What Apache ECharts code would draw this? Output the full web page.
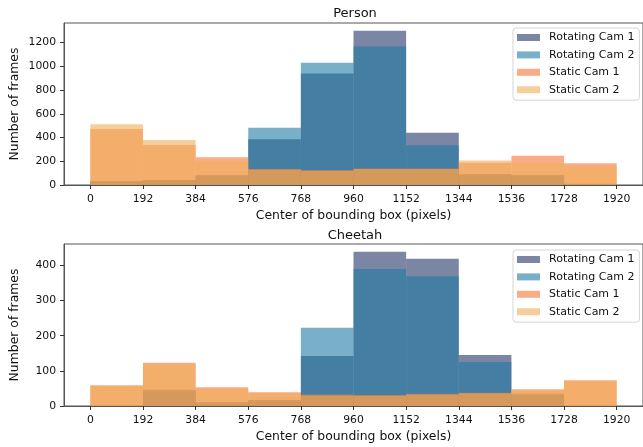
<!DOCTYPE html>
<html>
<head>
<meta charset="utf-8">
<script src="https://cdn.jsdelivr.net/npm/echarts@6/dist/echarts.min.js"></script>
<style>
html,body{margin:0;padding:0;background:#fff;}
#c{width:643px;height:447px;}
</style>
</head>
<body>
<div id="c"></div>
<script>
// ---- data ----
var binEdges = [0, 192, 384, 576, 768, 960, 1152, 1344, 1536, 1728, 1920];
var xTicks = [0, 192, 384, 576, 768, 960, 1152, 1344, 1536, 1728, 1920];
var personYTicks = [0, 200, 400, 600, 800, 1000, 1200];
var cheetahYTicks = [0, 100, 200, 300, 400];
var seriesNames = ['Rotating Cam 1', 'Rotating Cam 2', 'Static Cam 1', 'Static Cam 2'];

var personRot1 = [34, 42, 84, 385, 940, 1300, 440, 92, 84, 10];
var personRot2 = [28, 36, 76, 483, 1031, 1166, 335, 84, 76, 8];
var personStatic1 = [472, 337, 233, 135, 126, 140, 140, 187, 247, 183];
var personStatic2 = [512, 379, 197, 130, 120, 135, 135, 207, 183, 160];

var cheetahRot1 = [0, 46, 11, 17, 142, 439, 419, 145, 35, 0];
var cheetahRot2 = [0, 40, 8, 14, 223, 390, 369, 125, 30, 0];
var cheetahStatic1 = [59, 123, 53, 39, 33, 31, 35, 38, 48, 73];
var cheetahStatic2 = [56, 120, 50, 37, 30, 29, 33, 36, 45, 72];

var colors = ['rgba(33,53,102,0.6)', 'rgba(32,122,163,0.6)', 'rgba(247,117,55,0.6)', 'rgba(238,175,88,0.6)'];
var FONT = 'DejaVu Sans';

function binData(values) {
  return values.map(function (v, i) { return [binEdges[i], binEdges[i + 1], v]; });
}

function renderBin(params, api) {
  var p0 = api.coord([api.value(0), api.value(2)]);
  var p1 = api.coord([api.value(1), 0]);
  return {
    type: 'rect',
    shape: { x: p0[0], y: p0[1], width: p1[0] - p0[0], height: p1[1] - p0[1] },
    style: { fill: api.visual('color') }
  };
}

function makeSeries(idx, lists) {
  return lists.map(function (vals, k) {
    return {
      type: 'custom',
      name: seriesNames[k],
      xAxisIndex: idx,
      yAxisIndex: idx,
      itemStyle: { color: colors[k] },
      renderItem: renderBin,
      encode: { x: [0, 1], y: 2 },
      data: binData(vals)
    };
  });
}

var spine = '#555';
var xMargin = (binEdges[binEdges.length - 1] - binEdges[0]) * 0.05;
function plain(v) { return String(v); }

function xAxisFor(gi) {
  return {
    type: 'value', gridIndex: gi,
    min: binEdges[0] - xMargin, max: binEdges[binEdges.length - 1] + xMargin,
    name: 'Center of bounding box (pixels)', nameLocation: 'middle', nameGap: 24.5,
    nameMoveOverlap: false,
    nameTextStyle: { fontFamily: FONT, fontSize: 12.4, color: '#111' },
    axisLine: { show: true, onZero: false, lineStyle: { color: spine, width: 1 } },
    axisTick: { show: true, length: 4, lineStyle: { color: '#333' }, customValues: xTicks },
    axisLabel: { fontFamily: FONT, fontSize: 10.8, color: '#111', margin: 8.5, customValues: xTicks, formatter: plain },
    splitLine: { show: false }
  };
}
function yAxisFor(gi, ticks, maxVal) {
  return {
    type: 'value', gridIndex: gi, min: 0, max: maxVal,
    name: 'Number of frames', nameLocation: 'middle', nameGap: 43, nameRotate: 90,
    nameMoveOverlap: false,
    nameTextStyle: { fontFamily: FONT, fontSize: 12.4, color: '#111' },
    axisLine: { show: true, onZero: false, lineStyle: { color: spine, width: 1 } },
    axisTick: { show: true, length: 4, lineStyle: { color: '#333' }, customValues: ticks },
    axisLabel: { fontFamily: FONT, fontSize: 10.8, color: '#111', margin: 8, customValues: ticks, formatter: plain },
    splitLine: { show: false }
  };
}

function maxOf(lists) {
  var m = 0;
  lists.forEach(function (l) { l.forEach(function (v) { if (v > m) m = v; }); });
  return m * 1.05;
}

var personLists = [personRot1, personRot2, personStatic1, personStatic2];
var cheetahLists = [cheetahRot1, cheetahRot2, cheetahStatic1, cheetahStatic2];

function legendFor(top) {
  return {
    left: 513, top: top, orient: 'vertical',
    data: seriesNames,
    icon: 'rect', itemWidth: 23, itemHeight: 7, itemGap: 6.4,
    padding: [4, 5, 5, 4],
    backgroundColor: 'rgba(255,255,255,0.8)',
    borderColor: '#d5d5d5', borderWidth: 1, borderRadius: 3,
    textStyle: { fontFamily: FONT, fontSize: 11, lineHeight: 11, color: '#111', padding: [0, 0, 0, 4] }
  };
}

var chart = echarts.init(document.getElementById('c'), null, { renderer: 'canvas' });
chart.setOption({
  animation: false,
  backgroundColor: '#fff',
  title: [
    { text: 'Person', left: 355, top: 7.5, textAlign: 'center', padding: 0,
      textStyle: { fontFamily: FONT, fontSize: 13, fontWeight: 'normal', color: '#111' } },
    { text: 'Cheetah', left: 355, top: 229, textAlign: 'center', padding: 0,
      textStyle: { fontFamily: FONT, fontSize: 13, fontWeight: 'normal', color: '#111' } }
  ],
  legend: [legendFor(28), legendFor(250)],
  grid: [
    { left: 64, top: 23, width: 583, height: 162, show: true, borderColor: spine, borderWidth: 1, backgroundColor: 'transparent' },
    { left: 64, top: 244, width: 583, height: 162, show: true, borderColor: spine, borderWidth: 1, backgroundColor: 'transparent' }
  ],
  xAxis: [xAxisFor(0), xAxisFor(1)],
  yAxis: [yAxisFor(0, personYTicks, maxOf(personLists)), yAxisFor(1, cheetahYTicks, maxOf(cheetahLists))],
  series: makeSeries(0, personLists).concat(makeSeries(1, cheetahLists))
});
</script>
</body>
</html>
